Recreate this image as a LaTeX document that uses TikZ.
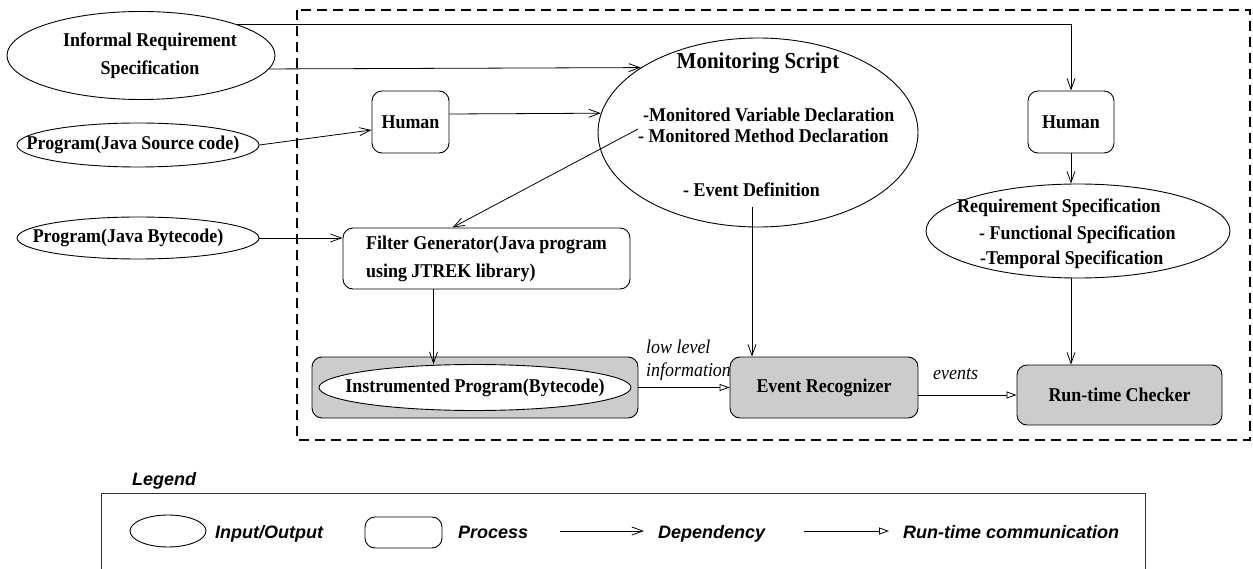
\documentclass[tikz,border=0pt]{standalone}
\usepackage{fontspec}
\setmainfont[FakeStretch=0.92]{Liberation Serif}
\setsansfont{Liberation Sans}
\usetikzlibrary{arrows.meta,shapes.geometric}
\definecolor{procgray}{gray}{0.8}
\newcommand{\figfont}{\fontsize{19.5}{28}\selectfont\bfseries}

\begin{document}
\begin{tikzpicture}[x=1pt,y=-1pt,
        iobox/.style={ellipse,draw,inner sep=0pt,line width=0.9pt},
        procbox/.style={rectangle,rounded corners=10pt,draw,inner sep=0pt,line width=0.9pt,font=\figfont},
        txt/.style={inner sep=0pt,font=\figfont},
        note/.style={inner sep=0pt,font=\fontsize{19.5}{23}\selectfont\itshape},
        legtxt/.style={inner sep=0pt,font=\sffamily\fontsize{18}{22}\selectfont\bfseries\itshape},
        dep/.style={-{Straight Barb[length=11pt,width=8pt]},line width=0.8pt},
        rtc/.style={-{Triangle[open,length=10pt,width=7pt]},line width=0.8pt}]
        \useasboundingbox (0,0) rectangle (1253,569);
        %confine del sistema
        \draw[dash pattern=on 10pt off 6pt,line width=1.2pt] (297,10) rectangle (1250,440);
        %ingressi
        \node[iobox,minimum width=268,minimum height=88,label={[txt,align=center,xshift=9pt]center:Informal Requirement\\Specification}] (inf) at (141,55.5) {};
        \node[iobox,minimum width=242,minimum height=44,label={[txt,xshift=-5pt]center:Program(Java Source code)}] (src) at (138,145) {};
        \node[iobox,minimum width=242,minimum height=42,label={[txt,xshift=-10pt]center:Program(Java Bytecode)}] (bc) at (138,238) {};
        %processi
        \node[procbox,minimum width=77,minimum height=62] (hum1) at (410.5,122) {Human};
        \node[procbox,minimum width=86,minimum height=62] (hum2) at (1071,122) {Human};
        \node[procbox,align=left,minimum width=287,minimum height=61] (fg) at (486.5,258.5) {Filter Generator(Java program\\using JTREK library)};
        \node[procbox,fill=procgray,minimum width=326,minimum height=61] (ipbox) at (475,387.5) {};
        \node[iobox,fill=white,minimum width=312,minimum height=46,label={[txt]center:Instrumented Program(Bytecode)}] (ipe) at (ipbox) {};
        \node[procbox,fill=procgray,minimum width=188,minimum height=61] (er) at (824,387.5) {Event Recognizer};
        \node[procbox,fill=procgray,minimum width=205,minimum height=60] (rc) at (1119.5,395) {Run-time Checker};
        %script di monitoraggio
        \node[iobox,minimum width=320,minimum height=189] (ms) at (758,132.5) {};
        \node[txt,font=\fontsize{22.8}{26}\selectfont\bfseries,anchor=base] (mstitle) at (758,69) {Monitoring Script};
        \node[txt,anchor=base west] (msvar) at (643,122) {-Monitored Variable Declaration};
        \node[txt,anchor=base west] (msmeth) at (638,143) {- Monitored Method Declaration};
        \node[txt,anchor=base west] (msev) at (683,197) {- Event Definition};
        %specifica dei requisiti
        \node[iobox,minimum width=304,minimum height=94] (rs) at (1078,231) {};
        \node[txt,anchor=base west] (rstitle) at (957,213) {Requirement Specification};
        \node[txt,anchor=base west] (rsfun) at (979,240) {- Functional Specification};
        \node[txt,anchor=base west] (rstemp) at (980,265) {-Temporal Specification};
        \coordinate (msout) at (638,129);
        \coordinate (msevt) at (752,207);
        % dipendenze
        \draw[dep] (inf.18.6) -| (hum2.north);
        \draw[dep] (inf.-6.8) -- (ms.151.5);
        \draw[dep] (src.east) -- ([yshift=-8pt]hum1.west);
        \draw[dep] ([yshift=8pt]hum1.east) -- (ms.173);
        \draw[dep] (msout) -- ([xshift=-34pt]fg.north);
        \draw[dep] (bc.east) -- (bc.east -| fg.west);
        \draw[dep] ([xshift=-53pt]fg.south) -- ([xshift=-53pt]fg.south |- ipe.north);
        \draw[dep] (msevt) -- (msevt |- er.north);
        \draw[dep] (hum2.south) -- (hum2.south |- rs.north);
        \draw[dep] (hum2.south |- rs.south) -- (hum2.south |- rc.north);
        % comunicazione run-time
        \draw[rtc] (ipbox.east) -- (ipbox.east -| er.west);
        \draw[rtc] (er.east |- rc.west) -- (rc.west);
        \node[note,align=left,anchor=west] (lowlvl) at (646,360) {low level\\information};
        \node[note,anchor=base west] (evts) at (933,379) {events};
        %legenda
        \node[legtxt,anchor=base west] (legtitle) at (132,485) {Legend};
        \draw[line width=1pt,black!80] (101,493) rectangle (1145,600);
        \node[iobox,minimum width=76,minimum height=32] (lgio) at (168,531) {};
        \node[legtxt,anchor=base west] (lgiotxt) at (215,538) {Input/Output};
        \node[procbox,minimum width=77,minimum height=31] (lgproc) at (403.5,532.5) {};
        \node[legtxt,anchor=base west] (lgproctxt) at (458,538) {Process};
        \coordinate (lgdepa) at (560,531);
        \coordinate (lgdepb) at (644,531);
        \draw[dep] (lgdepa) -- (lgdepb);
        \node[legtxt,anchor=base west] (lgdeptxt) at (658,538) {Dependency};
        \coordinate (lgrtca) at (804,531);
        \coordinate (lgrtcb) at (889,531);
        \draw[rtc] (lgrtca) -- (lgrtcb);
        \node[legtxt,anchor=base west] (lgrtctxt) at (903,538) {Run-time communication};
\end{tikzpicture}
\end{document}
